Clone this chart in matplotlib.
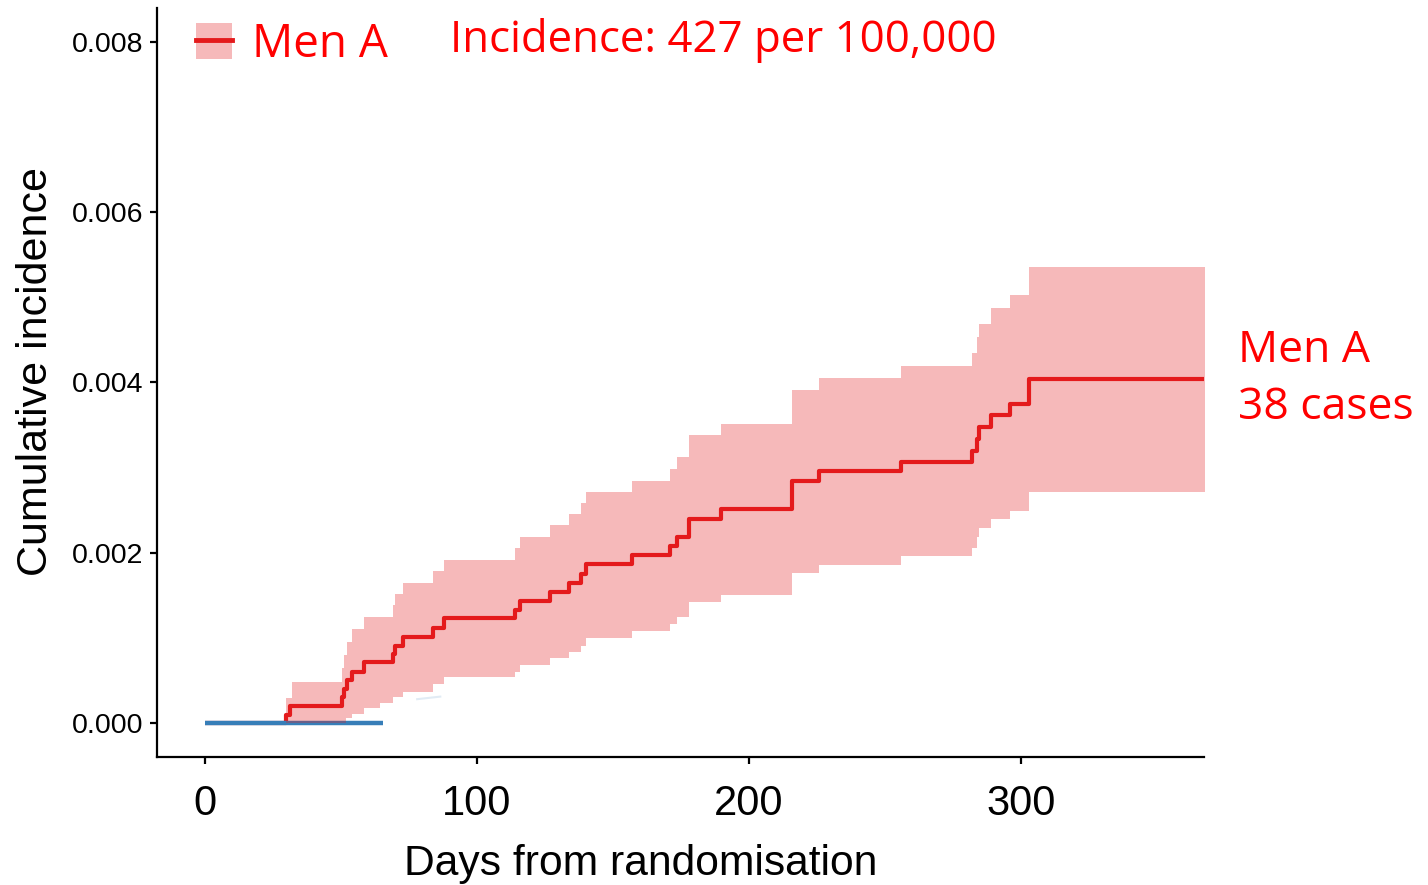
import matplotlib.pyplot as plt
from matplotlib.patches import Patch
from matplotlib.lines import Line2D

# Men A cumulative incidence (Kaplan-Meier style step curve)
men_a_days = [0, 29.8, 31.3, 50.2, 51.1, 52.3, 53.9, 58.5, 69.2, 69.9, 72.7,
              83.9, 87.9, 114.0, 115.8, 126.8, 133.8, 138.2, 140.0, 156.9, 171.0,
              173.7, 177.9, 189.7, 215.7, 225.7, 255.9, 282.0, 283.8, 284.7, 288.9,
              296.0, 303.0, 367.6]
men_a_cum = [0, 0.0001, 0.0002, 0.0003, 0.0004, 0.0005, 0.0006, 0.00072, 0.00081, 0.00091, 0.00101,
             0.00112, 0.00123, 0.00133, 0.00143, 0.00154, 0.00164, 0.00175, 0.00187, 0.00197, 0.00208,
             0.00218, 0.00240, 0.00251, 0.00284, 0.00296, 0.00307, 0.00320, 0.00334, 0.00348, 0.00362,
             0.00375, 0.00404, 0.00404]

# 95% confidence band
band_days = [29.8, 32.0, 50.2, 51.1, 51.8, 52.3, 53.9, 58.5, 64.3, 69.2, 69.9, 72.7,
             83.9, 87.9, 114.0, 115.8, 126.8, 133.8, 138.2, 140.0, 156.9, 171.0, 173.7,
             177.9, 189.7, 215.7, 225.7, 255.9, 282.0, 283.8, 284.7, 288.9, 296.0, 303.0, 367.6]
band_upper = [0.00029, 0.00048, 0.00065, 0.0008, 0.0008, 0.00095, 0.0011, 0.00124, 0.00124, 0.00138, 0.00151, 0.00165,
              0.00178, 0.00192, 0.00206, 0.00219, 0.00232, 0.00246, 0.00258, 0.00271, 0.00284, 0.00298, 0.00312,
              0.00338, 0.00351, 0.00391, 0.00405, 0.00419, 0.00435, 0.00453, 0.00469, 0.00487, 0.00503, 0.00536, 0.00536]
band_lower = [0, 0, 0, 0, 0.00006, 0.00006, 0.00011, 0.00018, 0.00023, 0.00031, 0.00031, 0.00036,
              0.00046, 0.00054, 0.0006, 0.00068, 0.00076, 0.00083, 0.00091, 0.001, 0.00108, 0.00116, 0.00124,
              0.00142, 0.0015, 0.00176, 0.00185, 0.00196, 0.00206, 0.00218, 0.00229, 0.00239, 0.00249, 0.00271, 0.00271]

# other arm (no events)
other_days = [0, 65.4]
other_cum = [0, 0]
other_ci_days = [78, 86.5]
other_ci_vals = [0.00028, 0.00031]

n_cases = 38
incidence = 427

red = "#e41a1c"
blue = "#377eb8"
txt_red = "#ff0000"
label_font = ["Open Sans", "DejaVu Sans"]

plt.rcParams["font.family"] = ["Liberation Sans", "DejaVu Sans"]

fig = plt.figure(figsize=(14.28, 8.85), dpi=100)
ax = fig.add_axes([157/1428, 1 - 757/885, (1204 - 157)/1428, (757 - 8)/885])

ax.step(men_a_days, men_a_cum, where="post", color=red, lw=3, zorder=2,
        solid_capstyle="butt")
ax.plot(other_days, other_cum, color=blue, lw=3.2, zorder=3, solid_capstyle="butt")
ax.plot(other_ci_days, other_ci_vals, color=blue, alpha=0.15, lw=1.5, zorder=3)
ax.fill_between(band_days, band_lower, band_upper, step="post", color=red,
                alpha=0.3, lw=0, zorder=4)

ax.set_xlim(-17.65, 367.3)
ax.set_ylim(-0.000399, 0.008396)
ax.set_xticks([0, 100, 200, 300])
ax.set_yticks([0, 0.002, 0.004, 0.006, 0.008])
ax.set_yticklabels(["0.000", "0.002", "0.004", "0.006", "0.008"])

for s in ["top", "right"]:
    ax.spines[s].set_visible(False)
for s in ["left", "bottom"]:
    ax.spines[s].set_linewidth(1.6)
ax.tick_params(axis="both", length=5, width=1.6, color="black")
ax.tick_params(axis="y", labelsize=20.5, pad=5)
ax.tick_params(axis="x", labelsize=30, pad=14.5)

ax.set_xlabel("Days from randomisation", fontsize=30.7)
ax.xaxis.set_label_coords(0.462, -0.116)
ax.set_ylabel("Cumulative incidence", fontsize=31)
ax.yaxis.set_label_coords(-0.096, 0.515)

# legend: ribbon with line
handle = (Patch(facecolor=red, alpha=0.3, lw=0), Line2D([], [], color=red, lw=3.5))
ax.legend([handle], ["Men A"], loc="upper left", bbox_to_anchor=(196/1428, 1 - 22/885),
          bbox_transform=fig.transFigure, frameon=False, borderpad=0, borderaxespad=0,
          handlelength=0.78, handleheight=0.85, handletextpad=0.45, labelcolor=txt_red,
          prop={"family": label_font, "size": 33})

fig.text(450/1428, 1 - 52/885, f"Incidence: {incidence} per 100,000", color=txt_red,
         fontsize=31.5, family=label_font, va="baseline")

ax.text(379.8, men_a_cum[-1], f"Men A\n{n_cases} cases", color=txt_red, fontsize=32,
        family=label_font, va="center", ha="left", clip_on=False, linespacing=1.38)

fig.savefig("out.png", dpi=100)
